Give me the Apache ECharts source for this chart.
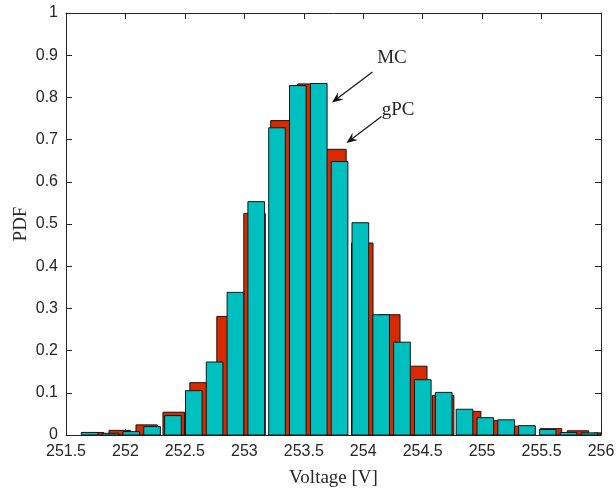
<!DOCTYPE html>
<html>
<head>
<meta charset="utf-8">
<script src="https://cdn.jsdelivr.net/npm/echarts@6/dist/echarts.min.js"></script>
<style>
  html, body { margin: 0; padding: 0; background: #fff; }
  #chart { width: 616px; height: 488px; }
</style>
</head>
<body>
<div id="chart"></div>
<script>
// Monte Carlo histogram (bin centres in V, PDF heights)
const mcCenters = [251.726, 251.952, 252.179, 252.406, 252.632, 252.859, 253.086, 253.312, 253.539, 253.766,
                   253.992, 254.219, 254.446, 254.672, 254.899, 255.126, 255.352, 255.579, 255.806, 256.032];
const mcPdf     = [0.006, 0.011, 0.024, 0.054, 0.124, 0.281, 0.525, 0.745, 0.832, 0.677,
                   0.455, 0.285, 0.163, 0.094, 0.056, 0.034, 0.021, 0.015, 0.010, 0.005];
const mcBarWidth = 0.181;

// gPC surrogate histogram
const gpcCenters = [251.699, 251.874, 252.049, 252.224, 252.400, 252.575, 252.750, 252.925, 253.100, 253.275,
                    253.450, 253.626, 253.801, 253.976, 254.151, 254.326, 254.501, 254.677, 254.852, 255.027,
                    255.202, 255.377, 255.552, 255.727, 255.903];
const gpcPdf     = [0.006, 0.004, 0.008, 0.020, 0.046, 0.105, 0.173, 0.338, 0.553, 0.728,
                    0.828, 0.833, 0.648, 0.503, 0.285, 0.220, 0.131, 0.101, 0.061, 0.041,
                    0.036, 0.022, 0.013, 0.006, 0.005];
const gpcBarWidth = 0.140;

const xTicks = { min: 251.5, max: 256, step: 0.5 };
const yTicks = { min: 0, max: 1, step: 0.1 };

const axisColor = '#262626';
const serif = '"Liberation Serif", "DejaVu Serif", serif';
const sans = '"Liberation Sans", Arial, sans-serif';

function pairs(xs, ys) { return xs.map((x, i) => [x, ys[i]]); }

function histBar(binWidth) {
  return function (params, api) {
    const c = api.value(0), h = api.value(1);
    const p0 = api.coord([c - binWidth / 2, h]);
    const p1 = api.coord([c + binWidth / 2, 0]);
    const cs = params.coordSys;
    const shape = echarts.graphic.clipRectByRect(
      { x: p0[0], y: p0[1], width: p1[0] - p0[0], height: p1[1] - p0[1] },
      { x: cs.x, y: cs.y, width: cs.width, height: cs.height + 1 }
    );
    if (!shape) return null;
    return {
      type: 'rect',
      shape: shape,
      style: { fill: api.visual('color'), stroke: '#151515', lineWidth: 1 }
    };
  };
}

// arrow (line + swept-back head) from (x1,y1) to tip (x2,y2), in pixels
function arrow(x1, y1, x2, y2) {
  const dx = x2 - x1, dy = y2 - y1, len = Math.hypot(dx, dy);
  const ux = dx / len, uy = dy / len, nx = -uy, ny = ux;
  const L = 11, W = 4.5, notch = 7;
  const bx = x2 - ux * L, by = y2 - uy * L;
  const head = [
    [x2, y2],
    [bx + nx * W, by + ny * W],
    [x2 - ux * notch, y2 - uy * notch],
    [bx - nx * W, by - ny * W]
  ];
  return [
    { type: 'line', shape: { x1: x1, y1: y1, x2: x2 - ux * notch, y2: y2 - uy * notch },
      style: { stroke: '#111', lineWidth: 1.1 }, z: 100 },
    { type: 'polygon', shape: { points: head }, style: { fill: '#111' }, z: 100 }
  ];
}

const chart = echarts.init(document.getElementById('chart'), null, { renderer: 'canvas' });

const tickStyle = { show: true, inside: true, length: 6, lineStyle: { color: axisColor, width: 1 } };
const lineStyle = { show: true, onZero: false, lineStyle: { color: axisColor, width: 1 } };

chart.setOption({
  animation: false,
  backgroundColor: '#fff',
  grid: { left: 66, right: 15, top: 13, bottom: 53, containLabel: false, outerBoundsMode: 'none' },
  xAxis: [
    {
      type: 'value', min: xTicks.min, max: xTicks.max, interval: xTicks.step,
      position: 'bottom',
      axisLine: lineStyle, axisTick: tickStyle, splitLine: { show: false },
      axisLabel: { color: axisColor, fontFamily: sans, fontSize: 16, margin: 9,
                   formatter: v => String(Number(v.toFixed(1))) },
      name: 'Voltage [V]', nameLocation: 'middle', nameGap: 34, nameMoveOverlap: false,
      nameTextStyle: { fontFamily: serif, fontSize: 19, color: axisColor }
    },
    {
      type: 'value', min: xTicks.min, max: xTicks.max, interval: xTicks.step,
      position: 'top',
      axisLine: lineStyle, axisTick: tickStyle, splitLine: { show: false },
      axisLabel: { show: false }
    }
  ],
  yAxis: [
    {
      type: 'value', min: yTicks.min, max: yTicks.max, interval: yTicks.step,
      position: 'left',
      axisLine: lineStyle, axisTick: tickStyle, splitLine: { show: false },
      axisLabel: { color: axisColor, fontFamily: sans, fontSize: 16, margin: 8,
                   formatter: v => String(Number(v.toFixed(1))) },
      name: 'PDF', nameLocation: 'middle', nameGap: 35, nameRotate: 90, nameMoveOverlap: false,
      nameTextStyle: { fontFamily: serif, fontSize: 19, color: axisColor }
    },
    {
      type: 'value', min: yTicks.min, max: yTicks.max, interval: yTicks.step,
      position: 'right',
      axisLine: lineStyle, axisTick: tickStyle, splitLine: { show: false },
      axisLabel: { show: false }
    }
  ],
  series: [
    {
      name: 'MC', type: 'custom', xAxisIndex: 0, yAxisIndex: 0,
      itemStyle: { color: '#D92900' },
      renderItem: histBar(mcBarWidth),
      data: pairs(mcCenters, mcPdf), z: 2
    },
    {
      name: 'gPC', type: 'custom', xAxisIndex: 0, yAxisIndex: 0,
      itemStyle: { color: '#00BFBF' },
      renderItem: histBar(gpcBarWidth),
      data: pairs(gpcCenters, gpcPdf), z: 3
    }
  ],
  graphic: [
    { type: 'text', x: 392, y: 58, z: 100,
      style: { text: 'MC', font: '19px ' + serif, fill: '#262626', align: 'center', verticalAlign: 'middle' } },
    { type: 'text', x: 398, y: 110, z: 100,
      style: { text: 'gPC', font: '19px ' + serif, fill: '#262626', align: 'center', verticalAlign: 'middle' } },
    ...arrow(372.5, 72, 332, 102.5),
    ...arrow(381.5, 116.5, 346.5, 143)
  ]
});
</script>
</body>
</html>
